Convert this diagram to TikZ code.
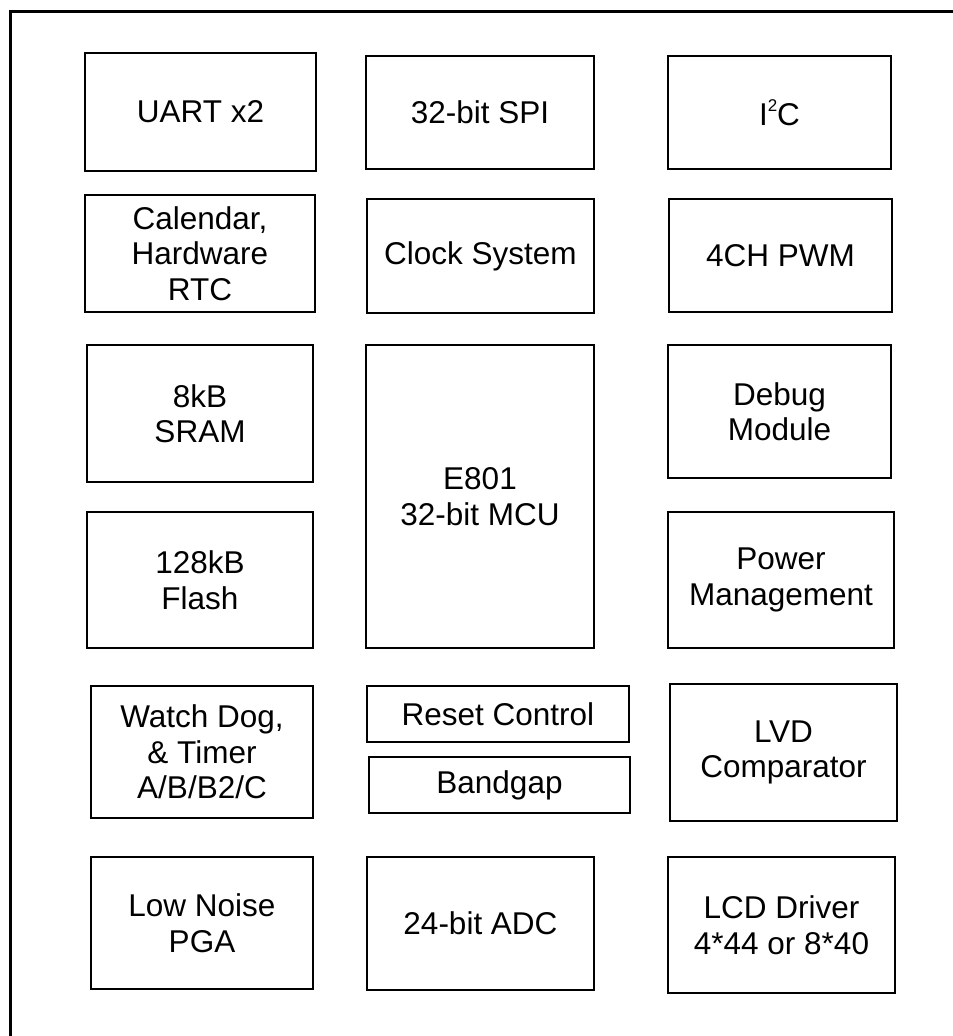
\documentclass[tikz,border=0pt]{standalone}
\usepackage{fontspec}
\setmainfont{Liberation Sans}
\tikzset{
  blockbox/.style={draw=black, line width=1.7pt, align=center, inner sep=0pt,
    font=\fontsize{31.5}{35.5}\selectfont},
  frameline/.style={draw=black, line width=3pt}
}
\newcommand\blk[6]{\node[blockbox,minimum width={(#4-#2)*1pt},minimum height={(#5-#3)*1pt}] (#1) at ({(#2+#4)/2},{(#3+#5)/2}) {#6};}
\newcommand\supsmall[1]{\raisebox{0.85ex}{\fontsize{17}{17}\selectfont #1}}
\begin{document}
\begin{tikzpicture}[x=1pt,y=-1pt]
\fill[white] (0,0) rectangle (953,1036);
\useasboundingbox (0,0) rectangle (953,1036);
\coordinate (ftl) at (10.5,11.5);
\coordinate (fbr) at (980,1060);
\draw[frameline] (ftl) rectangle (fbr);
\blk{uart}{85}{53}{316}{171}{UART x2}
\blk{spi}{366}{56}{594}{169}{32-bit SPI}
\blk{iic}{668}{56}{891}{169}{I\supsmall{2}C}
\blk{cal}{85}{195}{315}{312}{Calendar,\\Hardware\\RTC}
\blk{clk}{367}{199}{594}{313}{Clock System}
\blk{pwm}{669}{199}{892}{312}{4CH PWM}
\blk{sram}{87}{345}{313}{482}{8kB\\SRAM}
\blk{mcu}{366}{345}{594}{648}{E801\\32-bit MCU}
\blk{dbg}{668}{345}{891}{478}{Debug\\Module}
\blk{flash}{87}{512}{313}{648}{128kB\\Flash}
\blk{pwr}{668}{512}{894}{648}{Power\\Management}
\blk{wdt}{91}{686}{313}{818}{Watch Dog,\\\& Timer\\A/B/B2/C}
\blk{rst}{367}{686}{629}{742}{Reset Control}
\blk{bg}{369}{757}{630}{813}{Bandgap}
\blk{lvd}{670}{684}{897}{821}{LVD\\Comparator}
\blk{pga}{91}{857}{313}{989}{Low Noise\\PGA}
\blk{adc}{367}{857}{594}{990}{24-bit ADC}
\blk{lcd}{668}{857}{895}{993}{LCD Driver\\4*44 or 8*40}
\end{tikzpicture}
\end{document}
